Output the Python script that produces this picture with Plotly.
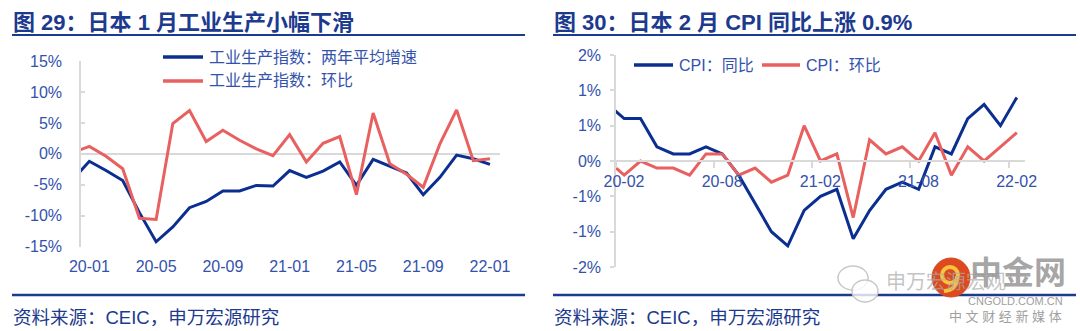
import plotly.graph_objects as go

# ---------------- data ----------------
ip_months = ["19-12", "20-01", "20-02", "20-03", "20-04", "20-05", "20-06", "20-07", "20-08",
             "20-09", "20-10", "20-11", "20-12", "21-01", "21-02", "21-03", "21-04", "21-05",
             "21-06", "21-07", "21-08", "21-09", "21-10", "21-11", "21-12", "22-01"]
ip_two_year_avg = [-4.2, -1.2, -2.7, -4.3, -9.5, -14.2, -11.8, -8.7, -7.7, -6.0, -6.0, -5.1, -5.2,
                   -2.7, -3.8, -2.8, -1.3, -5.1, -0.9, -2.0, -3.1, -6.6, -3.8, -0.2, -0.8, -1.7]
ip_mom = [0.2, 1.2, -0.4, -2.4, -10.4, -10.6, 4.9, 7.0, 2.0, 3.8, 2.2, 0.8, -0.3,
          3.1, -1.3, 1.7, 2.8, -6.6, 6.6, -1.6, -3.3, -5.4, 1.6, 7.1, -1.1, -0.8]
ip_series_names = ["工业生产指数：两年平均增速", "工业生产指数：环比"]
ip_tick_vals = [-15, -10, -5, 0, 5, 10, 15]
ip_tick_text = ["-15%", "-10%", "-5%", "0%", "5%", "10%", "15%"]
ip_label_months = ["20-01", "20-05", "20-09", "21-01", "21-05", "21-09", "22-01"]

cpi_months = ["20-01", "20-02", "20-03", "20-04", "20-05", "20-06", "20-07", "20-08", "20-09",
              "20-10", "20-11", "20-12", "21-01", "21-02", "21-03", "21-04", "21-05", "21-06",
              "21-07", "21-08", "21-09", "21-10", "21-11", "21-12", "22-01", "22-02"]
cpi_yoy = [0.8, 0.6, 0.6, 0.2, 0.1, 0.1, 0.2, 0.1, -0.2, -0.6, -1.0, -1.2,
           -0.7, -0.5, -0.4, -1.1, -0.7, -0.4, -0.3, -0.4, 0.2, 0.1, 0.6, 0.8, 0.5, 0.9]
cpi_mom = [0.0, -0.2, 0.0, -0.1, -0.1, -0.2, 0.1, 0.1, -0.2, -0.1, -0.3, -0.2,
           0.5, 0.0, 0.1, -0.8, 0.3, 0.1, 0.2, 0.0, 0.4, -0.2, 0.2, 0.0, 0.2, 0.4]
cpi_series_names = ["CPI：同比", "CPI：环比"]
cpi_tick_vals = [-1.5, -1.0, -0.5, 0.0, 0.5, 1.0, 1.5]
cpi_tick_text = ["-2%", "-1%", "-1%", "0%", "1%", "1%", "2%"]
cpi_label_months = ["20-02", "20-08", "21-02", "21-08", "22-02"]

titles = ["图 29：日本 1 月工业生产小幅下滑", "图 30：日本 2 月 CPI 同比上涨 0.9%"]
source_text = "资料来源：CEIC，申万宏源研究"
watermark_texts = ["申万宏源宏观", "中金网", "CNGOLD.COM.CN", "中 文 财 经 新 媒 体"]

# ---------------- style ----------------
W, H = 1080, 331
BLUE = "#0B2F91"
RED = "#E8605F"
GRAY = "#D9D9D9"
TICK = "#3352AC"
TITLE = "#1C3A8E"
FONT = "'Liberation Sans', Arial, 'Noto Sans CJK SC', sans-serif"


def px(x):
    return x / W


def py(y):
    return 1 - y / H


ip_x = list(range(len(ip_months)))
cpi_x = list(range(len(cpi_months)))

fig = go.Figure()
fig.add_trace(go.Scatter(x=ip_x, y=ip_two_year_avg, mode="lines", name=ip_series_names[0],
                         line=dict(color=BLUE, width=3), xaxis="x", yaxis="y", showlegend=False))
fig.add_trace(go.Scatter(x=ip_x, y=ip_mom, mode="lines", name=ip_series_names[1],
                         line=dict(color=RED, width=3), xaxis="x", yaxis="y", showlegend=False))
fig.add_trace(go.Scatter(x=cpi_x, y=cpi_yoy, mode="lines", name=cpi_series_names[0],
                         line=dict(color=BLUE, width=3), xaxis="x2", yaxis="y2", showlegend=False))
fig.add_trace(go.Scatter(x=cpi_x, y=cpi_mom, mode="lines", name=cpi_series_names[1],
                         line=dict(color=RED, width=3), xaxis="x2", yaxis="y2", showlegend=False))

# left plot area (pixels)
L_x0, L_x1 = 81, 500
L_ytop, L_ybot = 61, 246.7
# right plot area (pixels)
R_x0, R_x1 = 616, 1025
R_ytop, R_ybot = 55, 267
r_ydom = [py(R_ybot), py(R_ytop)]
r_zero_pos = r_ydom[0] + (r_ydom[1] - r_ydom[0]) * (0 - cpi_tick_vals[0]) / (cpi_tick_vals[-1] - cpi_tick_vals[0])

ip_label_idx = [ip_months.index(m) for m in ip_label_months]
cpi_label_idx = [cpi_months.index(m) for m in cpi_label_months]

fig.update_layout(
    width=W, height=H, margin=dict(l=0, r=0, t=0, b=0), autosize=False,
    paper_bgcolor="white", plot_bgcolor="rgba(0,0,0,0)",
    font=dict(family=FONT, size=16, color=TICK),
    xaxis=dict(domain=[px(L_x0), px(L_x1)], range=[0.5, 25.6], anchor="y", automargin=False,
               tickvals=ip_label_idx, ticktext=ip_label_months,
               showline=False, showgrid=False, zeroline=False, ticks="",
               ticklabelstandoff=8, tickfont=dict(size=16, color=TICK)),
    yaxis=dict(domain=[py(L_ybot), py(L_ytop)], range=[ip_tick_vals[0], ip_tick_vals[-1]], anchor="x",
               automargin=False, tickvals=ip_tick_vals, ticktext=ip_tick_text,
               showline=True, linecolor=GRAY, linewidth=1.5,
               ticks="inside", ticklen=4, tickcolor=GRAY, tickwidth=1.5,
               showgrid=False, zeroline=True, zerolinecolor=GRAY, zerolinewidth=1.5,
               ticklabelstandoff=14, tickfont=dict(size=16, color=TICK)),
    xaxis2=dict(domain=[px(R_x0), px(R_x1)], range=[0.5, 25.5], anchor="free", position=r_zero_pos,
                automargin=False, tickvals=[i - 0.5 for i in cpi_label_idx], ticktext=cpi_label_months,
                ticklabelshift=8, ticklabelstandoff=0,
                showline=True, linecolor=GRAY, linewidth=1.5,
                ticks="outside", ticklen=6, tickcolor=GRAY, tickwidth=1.5,
                showgrid=False, zeroline=False, tickfont=dict(size=16, color=TICK)),
    yaxis2=dict(domain=r_ydom, range=[cpi_tick_vals[0], cpi_tick_vals[-1]], anchor="x2",
                automargin=False, tickvals=cpi_tick_vals, ticktext=cpi_tick_text,
                showline=True, linecolor=GRAY, linewidth=1.5,
                ticks="outside", ticklen=4, tickcolor=GRAY, tickwidth=1.5,
                showgrid=False, zeroline=False,
                ticklabelstandoff=6, tickfont=dict(size=16, color=TICK)),
)

shapes = []
annotations = []

# titles + underlines + footer lines + source
for i, (x0, x1) in enumerate([(12, 525), (553, 1076)]):
    annotations.append(dict(x=px(x0 - 1), y=py(22), xref="paper", yref="paper", xanchor="left",
                            yanchor="middle", showarrow=False, text="<b>" + titles[i] + "</b>",
                            font=dict(family=FONT, size=22, color=TITLE)))
    shapes.append(dict(type="line", xref="paper", yref="paper", x0=px(x0), x1=px(x1),
                       y0=py(35), y1=py(35), line=dict(color=TITLE, width=2)))
    shapes.append(dict(type="line", xref="paper", yref="paper", x0=px(x0), x1=px(x1),
                       y0=py(295), y1=py(295), line=dict(color=TITLE, width=2.5)))
    annotations.append(dict(x=px(x0 - 1), y=py(317), xref="paper", yref="paper", xanchor="left",
                            yanchor="middle", showarrow=False, text=source_text,
                            font=dict(family=FONT, size=18.5, color=TITLE)))

# legends (manual)
legend_items = [
    (163, 203, 57, BLUE, ip_series_names[0]),
    (163, 203, 81, RED, ip_series_names[1]),
    (634, 673, 65, BLUE, cpi_series_names[0]),
    (762, 800, 65, RED, cpi_series_names[1]),
]
for x0, x1, y, col, name in legend_items:
    shapes.append(dict(type="line", xref="paper", yref="paper", x0=px(x0), x1=px(x1),
                       y0=py(y), y1=py(y), line=dict(color=col, width=3.5)))
    annotations.append(dict(x=px(x1 + 4), y=py(y), xref="paper", yref="paper", xanchor="left",
                            yanchor="middle", showarrow=False, text=name,
                            font=dict(family=FONT, size=16, color=TICK)))

# watermark (decorative)
shapes.append(dict(type="circle", xref="paper", yref="paper", x0=px(838), x1=px(868),
                   y0=py(290), y1=py(266), line=dict(color="#C8C8C8", width=1.5),
                   fillcolor="rgba(255,255,255,0.6)"))
shapes.append(dict(type="circle", xref="paper", yref="paper", x0=px(852), x1=px(878),
                   y0=py(302), y1=py(280), line=dict(color="#C8C8C8", width=1.5),
                   fillcolor="rgba(255,255,255,0.8)"))
annotations.append(dict(x=px(884), y=py(282), xref="paper", yref="paper", xanchor="left",
                        yanchor="middle", showarrow=False, text=watermark_texts[0],
                        font=dict(family=FONT, size=20, color="rgba(170,170,170,0.7)")))
annotations.append(dict(x=px(968), y=py(273), xref="paper", yref="paper", xanchor="left",
                        yanchor="middle", showarrow=False, text="<b>" + watermark_texts[1] + "</b>",
                        font=dict(family=FONT, size=32, color="rgba(150,150,150,0.85)")))
shapes.append(dict(type="circle", xref="paper", yref="paper", x0=px(932), x1=px(970),
                   y0=py(297), y1=py(258), line=dict(color="#D9481E", width=1),
                   fillcolor="#DD4A1F"))
shapes.append(dict(type="circle", xref="paper", yref="paper", x0=px(942), x1=px(958),
                   y0=py(283), y1=py(267), line=dict(color="#F7C440", width=4)))
shapes.append(dict(type="path", xref="paper", yref="paper",
                   path="M %f,%f Q %f,%f %f,%f" % (px(957), py(276), px(958), py(290), px(944), py(291)),
                   line=dict(color="#F7C440", width=4)))
annotations.append(dict(x=px(1065), y=py(301), xref="paper", yref="paper", xanchor="right",
                        yanchor="middle", showarrow=False, text=watermark_texts[2],
                        font=dict(family=FONT, size=11, color="#A0A0A0")))
annotations.append(dict(x=px(1064), y=py(316), xref="paper", yref="paper", xanchor="right",
                        yanchor="middle", showarrow=False, text=watermark_texts[3],
                        font=dict(family=FONT, size=13, color="#A0A0A0")))

fig.update_layout(shapes=shapes, annotations=annotations)
fig.write_html("out.html")
